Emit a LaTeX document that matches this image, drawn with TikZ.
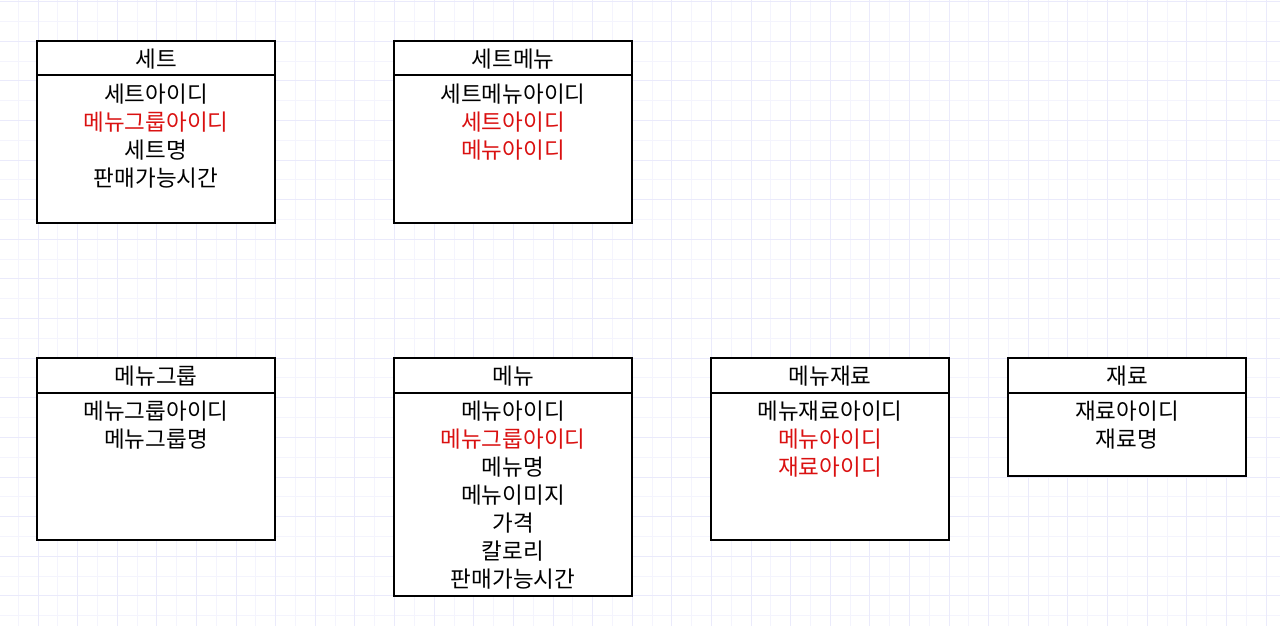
\documentclass[tikz,border=0pt]{standalone}
\usepackage{fontspec}
\setmainfont{Noto Sans CJK KR}
\usepackage{tikz}
\usetikzlibrary{positioning, calc}
\definecolor{myred}{RGB}{218,16,16}
\definecolor{mydark}{RGB}{0,0,0}
\definecolor{gridlight}{RGB}{244,244,253}
\definecolor{griddark}{RGB}{234,234,251}
\tikzset{
  entityhead/.style={rectangle, draw=mydark, fill=white, line width=2pt,
    minimum width=238pt, minimum height=34.5pt, inner sep=0pt, outer sep=0pt},
  entitybody/.style={rectangle, draw=mydark, fill=white, line width=2pt,
    minimum width=238pt, inner sep=0pt, outer sep=0pt},
  entitytitle/.style={anchor=base, inner sep=0pt,
    font=\fontsize{22.5}{28}\selectfont},
  field/.style={anchor=base, inner sep=0pt,
    font=\fontsize{22.5}{28}\selectfont},
  gridline/.style={line width=1pt, color=gridlight},
  majorline/.style={line width=1pt, color=griddark}
}
\begin{document}
\begin{tikzpicture}[x=1pt, y=-1pt]
  \useasboundingbox (0,0) rectangle (1280,626);
  \fill[white] (0,0) rectangle (1280,626);

  % Background grid
  \foreach \k in {0,2,...,64} {
    \draw[gridline] ({18.3+19.805*\k},0) -- ({18.3+19.805*\k},626);
  }
  \foreach \j in {1,3,...,31} {
    \draw[gridline] (0,{1.7+19.805*\j}) -- (1280,{1.7+19.805*\j});
  }
  \foreach \k in {1,3,...,63} {
    \draw[majorline] ({18.3+19.805*\k},0) -- ({18.3+19.805*\k},626);
  }
  \foreach \j in {0,2,...,30} {
    \draw[majorline] (0,{1.7+19.805*\j}) -- (1280,{1.7+19.805*\j});
  }

  % Entity: 세트
  \node[entityhead, anchor=north west] (sethead) at (37,41) {};
  \node[entitybody, minimum height=147.5pt, below=0pt of sethead] (setbody) {};
  \node[entitytitle] (settitle) at ($(sethead.north)+(0,26.5)$) {세트};
  \foreach \clr/\txt [count=\i] in {mydark/세트아이디, myred/메뉴그룹아이디,
      mydark/세트명, mydark/판매가능시간} {
    \node[field, text=\clr] (setfield-\i) at ($(sethead.south)+(0,{27+28*(\i-1)})$) {\txt};
  }

  % Entity: 세트메뉴
  \node[entityhead, anchor=north west] (setmenuhead) at (394,41) {};
  \node[entitybody, minimum height=147.5pt, below=0pt of setmenuhead] (setmenubody) {};
  \node[entitytitle] (setmenutitle) at ($(setmenuhead.north)+(0,26.5)$) {세트메뉴};
  \foreach \clr/\txt [count=\i] in {mydark/세트메뉴아이디, myred/세트아이디,
      myred/메뉴아이디} {
    \node[field, text=\clr] (setmenufield-\i) at ($(setmenuhead.south)+(0,{27+28*(\i-1)})$) {\txt};
  }

  % Entity: 메뉴그룹
  \node[entityhead, anchor=north west] (grouphead) at (37,358) {};
  \node[entitybody, minimum height=147.5pt, below=0pt of grouphead] (groupbody) {};
  \node[entitytitle] (grouptitle) at ($(grouphead.north)+(0,26.5)$) {메뉴그룹};
  \foreach \clr/\txt [count=\i] in {mydark/메뉴그룹아이디, mydark/메뉴그룹명} {
    \node[field, text=\clr] (groupfield-\i) at ($(grouphead.south)+(0,{27+28*(\i-1)})$) {\txt};
  }

  % Entity: 메뉴
  \node[entityhead, anchor=north west] (menuhead) at (394,358) {};
  \node[entitybody, minimum height=203.5pt, below=0pt of menuhead] (menubody) {};
  \node[entitytitle] (menutitle) at ($(menuhead.north)+(0,26.5)$) {메뉴};
  \foreach \clr/\txt [count=\i] in {mydark/메뉴아이디, myred/메뉴그룹아이디,
      mydark/메뉴명, mydark/메뉴이미지, mydark/가격, mydark/칼로리, mydark/판매가능시간} {
    \node[field, text=\clr] (menufield-\i) at ($(menuhead.south)+(0,{27+28*(\i-1)})$) {\txt};
  }

  % Entity: 메뉴재료
  \node[entityhead, anchor=north west] (recipehead) at (711,358) {};
  \node[entitybody, minimum height=147.5pt, below=0pt of recipehead] (recipebody) {};
  \node[entitytitle] (recipetitle) at ($(recipehead.north)+(0,26.5)$) {메뉴재료};
  \foreach \clr/\txt [count=\i] in {mydark/메뉴재료아이디, myred/메뉴아이디,
      myred/재료아이디} {
    \node[field, text=\clr] (recipefield-\i) at ($(recipehead.south)+(0,{27+28*(\i-1)})$) {\txt};
  }

  % Entity: 재료
  \node[entityhead, anchor=north west] (stuffhead) at (1008,358) {};
  \node[entitybody, minimum height=83.5pt, below=0pt of stuffhead] (stuffbody) {};
  \node[entitytitle] (stufftitle) at ($(stuffhead.north)+(0,26.5)$) {재료};
  \foreach \clr/\txt [count=\i] in {mydark/재료아이디, mydark/재료명} {
    \node[field, text=\clr] (stufffield-\i) at ($(stuffhead.south)+(0,{27+28*(\i-1)})$) {\txt};
  }
\end{tikzpicture}
\end{document}
